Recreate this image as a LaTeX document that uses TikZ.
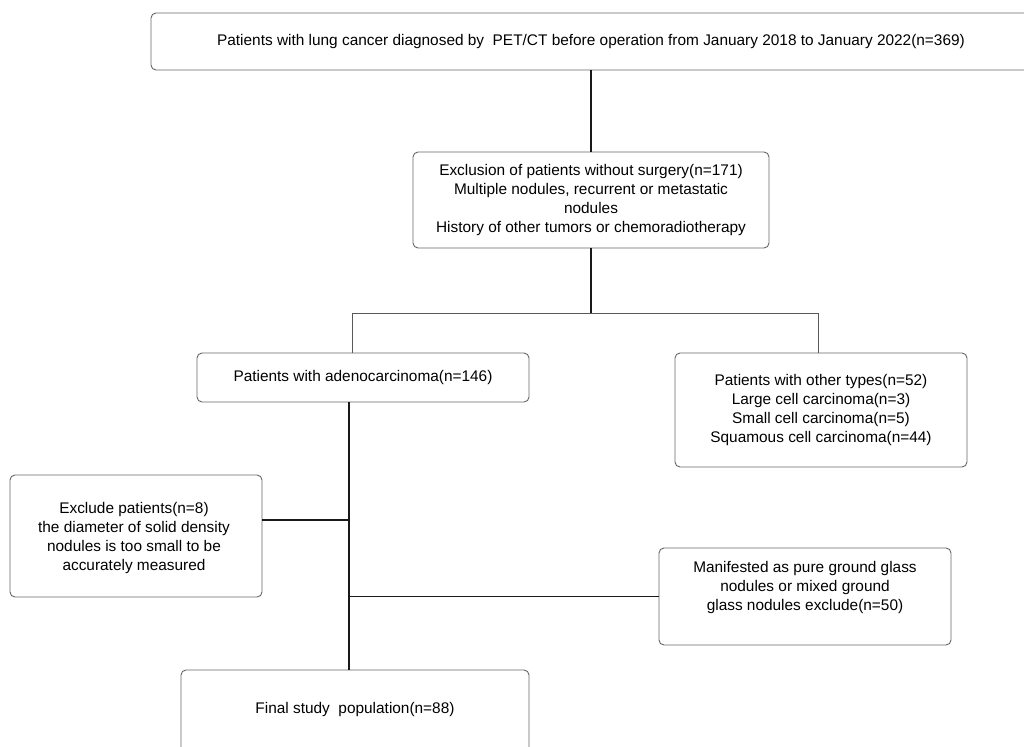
\documentclass[tikz,border=0pt]{standalone}
\usepackage{fontspec}
\setmainfont{Liberation Sans}
\begin{document}
\begin{tikzpicture}[x=1pt,y=-1pt,
  box/.style={draw=black!60, line width=0.9pt, rounded corners=5pt, fill=white, inner sep=0pt, align=center, font=\fontsize{15.4}{19}\selectfont},
  txt/.style={inner sep=0pt, align=center, font=\fontsize{15.4}{19}\selectfont},
  link/.style={draw=black!90, line width=1.3pt},
  thin/.style={draw=black!65, line width=1pt}]
\clip (0,0) rectangle (1024,746);
\fill[white] (0,0) rectangle (1024,746);
% boxes
\node[box, minimum width=880pt, minimum height=57pt] (top) at (591,41.5)
  {Patients with lung cancer diagnosed by\ \ PET/CT before operation from January 2018 to January 2022(n=369)};
\node[box, minimum width=356pt, minimum height=96pt] (excl) at (591,200)
  {Exclusion of patients without surgery(n=171)\\Multiple nodules, recurrent or metastatic\\nodules\\History of other tumors or chemoradiotherapy};
\node[box, minimum width=332pt, minimum height=49pt] (adeno) at (363,377.5)
  {Patients with adenocarcinoma(n=146)};
\node[box, minimum width=292pt, minimum height=114pt] (other) at (821,410)
  {Patients with other types(n=52)\\Large cell carcinoma(n=3)\\Small cell carcinoma(n=5)\\Squamous cell carcinoma(n=44)};
\node[box, minimum width=252pt, minimum height=122pt] (exc) at (136,536) {};
\node[txt] (exctxt) at (134,538)
  {Exclude patients(n=8)\\the diameter of solid density\\nodules is too small to be\\accurately measured};
\node[box, minimum width=292pt, minimum height=97pt] (man) at (805,596.5) {};
\node[txt] (mantxt) at (805,588)
  {Manifested as pure ground glass\\nodules or mixed ground\\glass nodules exclude(n=50)};
\node[box, minimum width=348pt, minimum height=120pt] (final) at (355,730) {};
\node[txt] (fintxt) at (355,710) {Final study\ \ population(n=88)};
% connectors
\coordinate (j1) at (591,313);
\coordinate (sp) at (349,402);
\draw[link] (excl.north |- top.south) -- (excl.north);
\draw[link] (excl.south) -- (j1);
\draw[thin] (j1) -| ([xshift=-11pt]adeno.north);
\draw[thin] (j1) -| ([xshift=-3pt]other.north);
\draw[link] (sp) -- (sp |- final.north);
\draw[link] ([yshift=16pt]exc.east) -- ([yshift=16pt]exc.east -| sp);
\draw[link] (sp |- man.west) -- (man.west);
\end{tikzpicture}
\end{document}
